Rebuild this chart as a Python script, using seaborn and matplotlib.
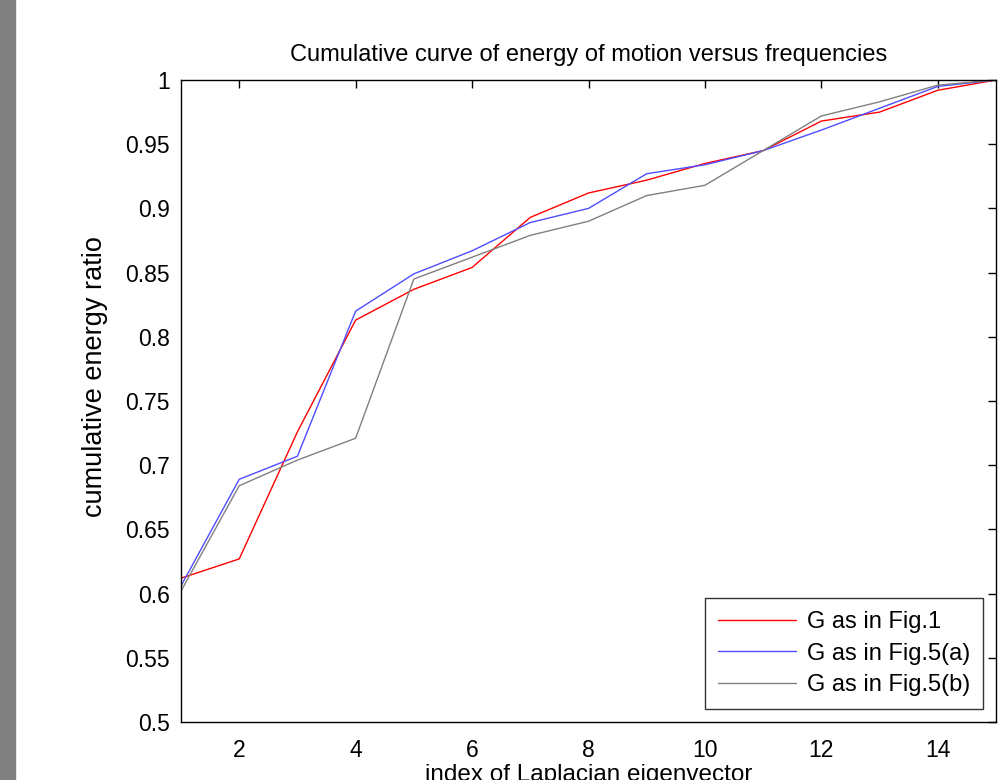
import matplotlib
matplotlib.use("Agg")
import matplotlib.pyplot as plt
import seaborn as sns
import pandas as pd
import numpy as np

index = list(range(1, 16))
red_fig1 = [0.612, 0.627, 0.726, 0.813, 0.837, 0.854, 0.893, 0.912, 0.922, 0.935, 0.945, 0.968, 0.975, 0.992, 1.0]
blue_fig5a = [0.606, 0.689, 0.707, 0.820, 0.849, 0.867, 0.889, 0.900, 0.927, 0.934, 0.945, 0.961, 0.978, 0.995, 1.0]
gray_fig5b = [0.602, 0.684, 0.704, 0.721, 0.845, 0.862, 0.879, 0.890, 0.910, 0.918, 0.945, 0.972, 0.983, 0.996, 1.0]
labels = ["G as in Fig.1", "G as in Fig.5(a)", "G as in Fig.5(b)"]
colors = ["#ff0000", "#4d4dff", "#808080"]
xticks = [2, 4, 6, 8, 10, 12, 14]
yticks = [0.5, 0.55, 0.6, 0.65, 0.7, 0.75, 0.8, 0.85, 0.9, 0.95, 1.0]
ytick_labels = ["0.5", "0.55", "0.6", "0.65", "0.7", "0.75", "0.8", "0.85", "0.9", "0.95", "1"]

df = pd.concat([
    pd.DataFrame({"x": index, "y": vals, "series": lab})
    for vals, lab in zip([red_fig1, blue_fig5a, gray_fig5b], labels)
])

sns.set_style("white")
plt.rcParams['font.family'] = ['Liberation Sans', 'DejaVu Sans']
plt.rcParams['text.color'] = 'black'
plt.rcParams['axes.labelcolor'] = 'black'

fig = plt.figure(figsize=(10.01, 7.8), dpi=100)
fig.patches.append(plt.Rectangle((0, 0), 15 / 1001, 1, transform=fig.transFigure,
                                 color="#808080", zorder=0))
ax = fig.add_axes([181 / 1001, 1 - 722 / 780, (996 - 181) / 1001, (722 - 80) / 780])

sns.lineplot(data=df, x="x", y="y", hue="series", palette=colors, ax=ax,
             linewidth=1.0, legend=True)

ax.set_xlim(1, 15)
ax.set_ylim(0.5, 1.0)
ax.set_xticks(xticks)
ax.set_xticklabels([str(t) for t in xticks])
ax.set_yticks(yticks)
ax.set_yticklabels(ytick_labels)
ax.tick_params(direction="in", length=6, width=1, top=True, right=True,
               labelsize=16.5, colors="black")
ax.tick_params(axis="x", pad=12)
ax.tick_params(axis="y", pad=8)
for s in ax.spines.values():
    s.set_color("black")
    s.set_linewidth(1)

ax.set_title("Cumulative curve of energy of motion versus frequencies", fontsize=17,
             pad=14, color="black")
ax.set_xlabel("index of Laplacian eigenvector", fontsize=17.5, labelpad=2)
ax.set_ylabel("cumulative energy ratio", fontsize=19.5)
ax.yaxis.set_label_coords(-0.089, (722 - 377) / (722 - 80))

leg = ax.legend(loc="lower right", fontsize=17, frameon=True, fancybox=False,
                edgecolor="black", handlelength=3.3, borderaxespad=0.55,
                labelspacing=0.4, handletextpad=0.45, borderpad=0.55)
leg.get_frame().set_linewidth(1)
for t in leg.get_texts():
    t.set_color("black")

fig.savefig("out.png", dpi=100)
